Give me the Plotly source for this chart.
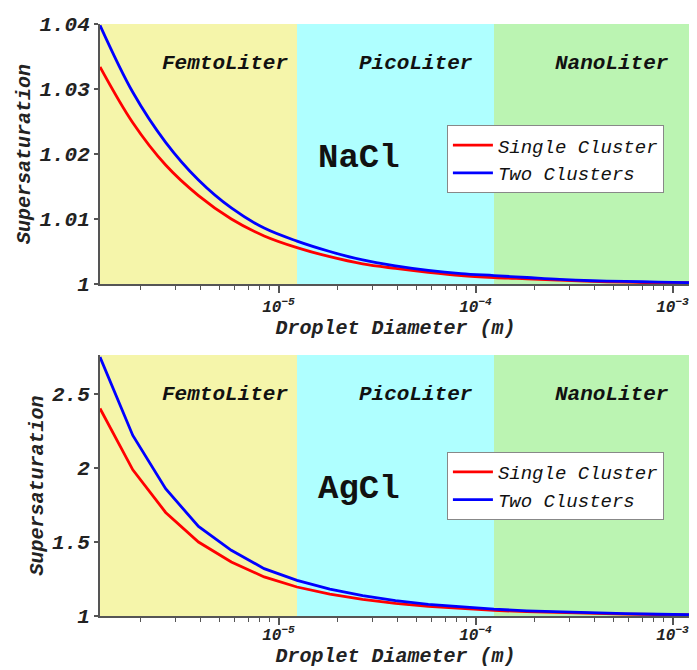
import math
import plotly.graph_objects as go

# ---------------- data ----------------
diameter_m = [1.241e-6, 1.821e-6, 2.673e-6, 3.924e-6, 5.759e-6, 8.454e-6,
              1.241e-5, 1.821e-5, 2.673e-5, 3.924e-5, 5.759e-5, 8.454e-5,
              1.241e-4, 1.821e-4, 2.673e-4, 3.924e-4, 5.759e-4, 8.454e-4,
              1.241e-3]

nacl_single = [1.0334, 1.0248, 1.0183, 1.0136, 1.0100, 1.0074, 1.0056,
               1.0042, 1.0031, 1.0024, 1.0018, 1.0013, 1.0010, 1.0008,
               1.0006, 1.0004, 1.0003, 1.0002, 1.0002]
nacl_two = [1.0398, 1.0295, 1.0218, 1.0160, 1.0117, 1.0086, 1.0066,
            1.0050, 1.0037, 1.0028, 1.0021, 1.0016, 1.0013, 1.0010,
            1.0007, 1.0005, 1.0004, 1.0003, 1.0002]

agcl_single = [2.403, 1.988, 1.700, 1.500, 1.365, 1.264, 1.196, 1.148,
               1.112, 1.085, 1.065, 1.050, 1.038, 1.029, 1.022, 1.017,
               1.013, 1.010, 1.008]
agcl_two = [2.750, 2.220, 1.860, 1.605, 1.444, 1.320, 1.241, 1.181,
            1.137, 1.104, 1.079, 1.060, 1.046, 1.035, 1.027, 1.021,
            1.016, 1.012, 1.009]

series_names = ["Single Cluster", "Two Clusters"]
salt_names = ["NaCl", "AgCl"]
region_names = ["FemtoLiter", "PicoLiter", "NanoLiter"]
region_edges_m = [1.241e-6, 1.241e-5, 1.241e-4, 1.241e-3]

x_tick_vals = [1e-5, 1e-4, 1e-3]
x_tick_text = ["10<sup>\u22125</sup>", "10<sup>\u22124</sup>", "10<sup>\u22123</sup>"]
nacl_tick_vals = [1, 1.01, 1.02, 1.03, 1.04]
nacl_tick_text = ["1", "1.01", "1.02", "1.03", "1.04"]
agcl_tick_vals = [1, 1.5, 2, 2.5]
agcl_tick_text = ["1", "1.5", "2", "2.5"]

# ---------------- styling ----------------
FONT = "Liberation Mono"
AXIS_COLOR = "#555555"
region_colors = ["#F5F5AA", "#AFFFFF", "#BBF4B2"]
series_colors = ["#FF0000", "#0000FF"]
label_x_log = [-5.27, -4.304, -3.307]

x_range = [math.log10(region_edges_m[0]), math.log10(region_edges_m[-1])]
minor_vals = [m * 10 ** e for e in (-6, -5, -4) for m in range(2, 10)]

fig = go.Figure()

panels = [
    dict(xa="x", ya="y", legend="legend", ys=[nacl_single, nacl_two],
         yr=[1, 1.04], tv=nacl_tick_vals, tt=nacl_tick_text),
    dict(xa="x2", ya="y2", legend="legend2", ys=[agcl_single, agcl_two],
         yr=[1, 2.764], tv=agcl_tick_vals, tt=agcl_tick_text),
]

for p, salt in zip(panels, salt_names):
    for name, yvals, col in zip(series_names, p["ys"], series_colors):
        fig.add_trace(go.Scatter(
            x=diameter_m, y=yvals, mode="lines", name=name,
            line=dict(color=col, width=2.8,
                      shape="spline" if salt == "NaCl" else "linear"),
            xaxis=p["xa"], yaxis=p["ya"], legend=p["legend"]))

shapes = []
annotations = []
for p, salt in zip(panels, salt_names):
    for i, (rname, rcol) in enumerate(zip(region_names, region_colors)):
        shapes.append(dict(type="rect", xref=p["xa"], yref=p["ya"] + " domain",
                           x0=region_edges_m[i], x1=region_edges_m[i + 1],
                           y0=0, y1=1, fillcolor=rcol, line=dict(width=0),
                           layer="below"))
        annotations.append(dict(text=rname, xref=p["xa"], yref=p["ya"] + " domain",
                                x=label_x_log[i], y=0.848, showarrow=False,
                                xanchor="center", yanchor="middle",
                                font=dict(family=FONT, size=21, color="#111111",
                                          weight="bold", style="italic")))
    annotations.append(dict(text=salt, xref=p["xa"], yref=p["ya"] + " domain",
                            x=-4.59, y=0.486, showarrow=False,
                            xanchor="center", yanchor="middle",
                            font=dict(family=FONT, size=34, color="#111111",
                                      weight="bold")))

def xaxis_cfg(anchor, label_shift):
    return dict(type="log", range=x_range, anchor=anchor, domain=[0, 1],
                automargin=False, ticklabelstandoff=label_shift,
                tickvals=x_tick_vals, ticktext=x_tick_text,
                tickfont=dict(family=FONT, size=16, color="#222222",
                              weight="bold", style="italic"),
                ticks="outside", ticklen=7, tickwidth=1.5, tickcolor=AXIS_COLOR,
                minor=dict(tickvals=minor_vals, ticks="outside", ticklen=4,
                           tickwidth=1.2, tickcolor=AXIS_COLOR),
                showline=True, linecolor=AXIS_COLOR, linewidth=2,
                showgrid=False, zeroline=False,
                title=dict(text="Droplet Diameter (m)", standoff=0,
                           font=dict(family=FONT, size=20, color="#222222",
                                     weight="bold", style="italic")))

def yaxis_cfg(anchor, dom, p):
    return dict(range=p["yr"], anchor=anchor, domain=dom,
                automargin=False,
                tickvals=p["tv"], ticktext=p["tt"],
                tickfont=dict(family=FONT, size=21, color="#222222",
                              weight="bold", style="italic"),
                ticks="outside", ticklen=4, tickwidth=1.5, tickcolor=AXIS_COLOR,
                showline=True, linecolor=AXIS_COLOR, linewidth=2,
                showgrid=False, zeroline=False,
                title=dict(text="Supersaturation", standoff=3,
                           font=dict(family=FONT, size=20, color="#222222",
                                     weight="bold", style="italic")))

legend_common = dict(bgcolor="white", bordercolor="#888888", borderwidth=1,
                     font=dict(family=FONT, size=19, color="#111111",
                               style="italic"),
                     xanchor="left", yanchor="top", tracegroupgap=0,
                     itemwidth=40)

# the page body adds an 8px offset, so margins are set 8px smaller on top/left
fig.update_layout(
    width=697, height=670,
    margin=dict(l=92, r=14, t=16, b=62, autoexpand=False),
    paper_bgcolor="white", plot_bgcolor="white",
    showlegend=True,
    xaxis=xaxis_cfg("y", 0),
    yaxis=yaxis_cfg("x", [0.5608, 1.0], panels[0]),
    xaxis2=xaxis_cfg("y2", -4),
    yaxis2=yaxis_cfg("x2", [0.0, 0.4409], panels[1]),
    legend=dict(x=0.587, y=0.829, **legend_common),
    legend2=dict(x=0.587, y=0.277, **legend_common),
    shapes=shapes,
    annotations=annotations,
)

fig.write_html("out.html")
